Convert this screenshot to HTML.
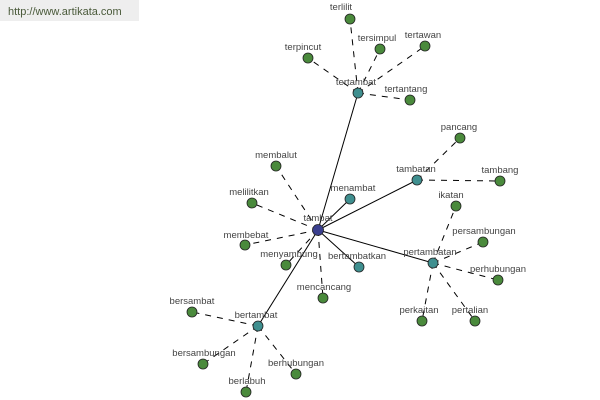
<!DOCTYPE html>
<html><head><style>body{margin:0;background:#fff}svg{display:block}text{font-family:"Liberation Sans",sans-serif;font-size:9.5px;fill:#444;text-anchor:middle}</style></head><body>
<svg width="600" height="400" viewBox="0 0 600 400">
<rect x="0" y="0" width="139" height="21" fill="#eeeeee"/>
<text x="8" y="15" style="text-anchor:start;font-size:11px;fill:#4a5a3a">http://www.artikata.com</text>
<g stroke="#000" stroke-width="1">
<line x1="318" y1="230" x2="358" y2="93"/>
<line x1="318" y1="230" x2="417" y2="180"/>
<line x1="318" y1="230" x2="433" y2="263"/>
<line x1="318" y1="230" x2="258" y2="326"/>
<line x1="318" y1="230" x2="350" y2="199"/>
<line x1="318" y1="230" x2="359" y2="267"/>
</g>
<g stroke="#000" stroke-width="1" stroke-dasharray="6,6">
<line x1="358" y1="93" x2="350" y2="19"/>
<line x1="358" y1="93" x2="380" y2="49"/>
<line x1="358" y1="93" x2="425" y2="46"/>
<line x1="358" y1="93" x2="308" y2="58"/>
<line x1="358" y1="93" x2="410" y2="100"/>
<line x1="417" y1="180" x2="460" y2="138"/>
<line x1="417" y1="180" x2="500" y2="181"/>
<line x1="433" y1="263" x2="456" y2="206"/>
<line x1="433" y1="263" x2="483" y2="242"/>
<line x1="433" y1="263" x2="498" y2="280"/>
<line x1="433" y1="263" x2="475" y2="321"/>
<line x1="433" y1="263" x2="422" y2="321"/>
<line x1="258" y1="326" x2="192" y2="312"/>
<line x1="258" y1="326" x2="203" y2="364"/>
<line x1="258" y1="326" x2="246" y2="392"/>
<line x1="258" y1="326" x2="296" y2="374"/>
<line x1="318" y1="230" x2="276" y2="166"/>
<line x1="318" y1="230" x2="252" y2="203"/>
<line x1="318" y1="230" x2="245" y2="245"/>
<line x1="318" y1="230" x2="286" y2="265"/>
<line x1="318" y1="230" x2="323" y2="298"/>
</g>
<g stroke="#222" stroke-width="0.8">
<g fill="#4a8a3c">
<circle cx="350" cy="19" r="5"/><circle cx="380" cy="49" r="5"/><circle cx="425" cy="46" r="5"/><circle cx="308" cy="58" r="5"/><circle cx="410" cy="100" r="5"/>
<circle cx="460" cy="138" r="5"/><circle cx="500" cy="181" r="5"/>
<circle cx="456" cy="206" r="5"/><circle cx="483" cy="242" r="5"/><circle cx="498" cy="280" r="5"/><circle cx="475" cy="321" r="5"/><circle cx="422" cy="321" r="5"/>
<circle cx="192" cy="312" r="5"/><circle cx="203" cy="364" r="5"/><circle cx="246" cy="392" r="5"/><circle cx="296" cy="374" r="5"/>
<circle cx="276" cy="166" r="5"/><circle cx="252" cy="203" r="5"/><circle cx="245" cy="245" r="5"/><circle cx="286" cy="265" r="5"/><circle cx="323" cy="298" r="5"/>
</g>
<g fill="#3f8f8f">
<circle cx="358" cy="93" r="5"/><circle cx="417" cy="180" r="5"/><circle cx="433" cy="263" r="5"/><circle cx="258" cy="326" r="5"/><circle cx="350" cy="199" r="5"/><circle cx="359" cy="267" r="5"/>
</g>
<circle cx="318" cy="230" r="5.5" fill="#3a3f8f"/>
</g>
<text x="341" y="10">terlilit</text>
<text x="377" y="41">tersimpul</text>
<text x="423" y="38">tertawan</text>
<text x="303" y="50">terpincut</text>
<text x="406" y="92">tertantang</text>
<text x="356" y="85">tertambat</text>
<text x="459" y="130">pancang</text>
<text x="500" y="173">tambang</text>
<text x="416" y="172">tambatan</text>
<text x="451" y="198">ikatan</text>
<text x="484" y="234">persambungan</text>
<text x="498" y="272">perhubungan</text>
<text x="470" y="313">pertalian</text>
<text x="419" y="313">perkaitan</text>
<text x="430" y="255">pertambatan</text>
<text x="353" y="191">menambat</text>
<text x="357" y="259">bertambatkan</text>
<text x="318" y="221">tambat</text>
<text x="276" y="158">membalut</text>
<text x="249" y="195">melilitkan</text>
<text x="246" y="238">membebat</text>
<text x="289" y="257">menyambung</text>
<text x="324" y="290">mencancang</text>
<text x="192" y="304">bersambat</text>
<text x="256" y="318">bertambat</text>
<text x="204" y="356">bersambungan</text>
<text x="247" y="384">berlabuh</text>
<text x="296" y="366">berhubungan</text>
</svg>
</body></html>
